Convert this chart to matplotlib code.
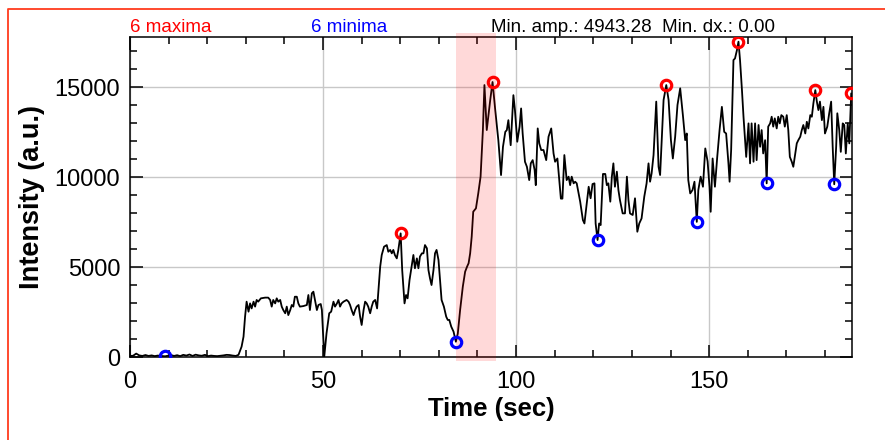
import numpy as np
import matplotlib
matplotlib.use("Agg")
import matplotlib.pyplot as plt
from matplotlib.lines import Line2D
from matplotlib.ticker import MultipleLocator

plt.rcParams['font.family'] = ['Liberation Sans', 'DejaVu Sans']

# trace, split by phase of the recording
t_base = [0.0, 0.8, 1.6, 2.4, 3.2, 4.0, 4.8, 5.6, 6.4, 7.2, 8.0, 9.1, 9.8, 10.6, 11.4, 12.2, 13.0, 13.8,
          14.6, 15.4, 16.2, 17.0, 17.8, 18.6, 19.4, 20.2, 21.0, 21.8, 22.6, 23.4, 24.2, 25.0, 25.8, 26.6,
          27.4, 28.1]
v_base = [60, 70, 190, 90, 60, 110, 60, 90, 50, 80, 60, 40, 70, 110, 60, 100, 50, 120,
          80, 140, 60, 130, 90, 70, 120, 50, 80, 60, 50, 70, 90, 120, 110, 80,
          60, 120]

t_step1 = [28.9, 29.4, 29.8, 30.2, 30.7, 31.1, 31.5, 32.0, 32.4, 32.8, 33.2, 33.9, 35.0, 35.8, 36.3,
           36.7, 37.1, 37.6, 38.0, 38.4, 38.9, 39.3, 39.7, 40.2, 40.6, 41.0, 41.5, 41.9, 42.3, 42.7,
           43.2, 43.6, 44.0, 44.9, 45.8, 46.2, 46.6, 47.1, 47.5, 47.9, 48.4, 48.8, 49.4, 49.7]
v_step1 = [575, 1130, 2240, 3075, 2520, 2980, 2700, 3075, 2800, 3170, 3075, 3260, 3300, 3300, 3170,
           2800, 3170, 2980, 3260, 3075, 3170, 2800, 2610, 2430, 2800, 2330, 2610, 2890, 2800, 3350,
           3350, 2980, 2800, 2830, 2890, 3445, 2610, 3540, 3630, 3170, 2610, 2890, 2945, 2610]

t_step2 = [50.3, 50.9, 51.6, 52.1, 52.7, 53.1, 53.6, 54.0, 54.4, 54.8, 55.3, 56.1, 56.6, 57.0, 57.4,
           57.9, 58.3, 58.7, 59.2, 59.6, 60.0, 60.5, 60.9, 61.3, 61.7, 62.2, 62.6, 63.0, 63.5, 64.0]
v_step2 = [0, 1315, 2430, 2520, 3075, 2800, 2980, 3170, 2800, 2980, 3075, 3170, 3075, 2890, 2610,
           2330, 2610, 2800, 2890, 2240, 1780, 2610, 3075, 2980, 2800, 2430, 2800, 3075, 3170, 2700]

t_step3 = [64.8, 65.2, 65.8, 66.5, 66.9, 67.4, 67.8, 68.2, 68.6, 69.1, 69.5, 70.1, 70.5, 71.1, 71.5,
           71.9, 72.4, 73.0, 73.4, 73.8, 74.3, 74.7, 75.1, 75.6, 76.0, 76.4, 76.9, 77.3, 77.7, 78.1,
           78.6, 79.0, 79.4, 79.9, 80.3, 80.7, 81.3, 81.9, 82.3, 82.7, 83.2, 83.8, 84.4]
v_step3 = [5020, 5670, 6130, 6220, 5850, 5950, 5760, 5950, 5670, 5480, 5950, 6870, 4830, 2980, 3445,
           3260, 4280, 5110, 5670, 4930, 5480, 4930, 5580, 5760, 5760, 6220, 6040, 4830, 4370, 4000,
           4830, 5760, 5950, 5390, 4280, 3170, 2800, 2240, 2060, 2060, 1690, 1410, 850]

t_rise = [84.9, 85.5, 86.2, 86.8, 87.3, 87.7, 88.1, 88.5, 88.9, 89.6, 90.2, 90.8, 91.4, 91.8, 92.4,
          93.3, 93.9, 94.6, 95.4, 96.1, 96.6, 97.2, 97.6, 98.0, 98.6, 99.3, 99.7, 100.3, 100.9, 101.3,
          101.7, 102.3, 102.8, 103.4, 103.8, 104.3, 104.8, 105.1, 105.6, 106.0, 106.5, 107.1, 107.8,
          108.4, 109.1, 109.7, 110.1, 110.7, 111.6, 112.0, 112.5, 113.1, 113.6, 114.0, 114.4, 114.9,
          115.3, 115.7, 116.2, 116.6, 117.3, 117.7, 118.3, 118.8]
v_rise = [1300, 2610, 3910, 4740, 5020, 5210, 5760, 6680, 8074, 8260, 9090, 10020, 12610, 15110, 12610,
          14280, 15280, 13720, 12050, 10110, 11680, 12510, 12610, 13160, 11770, 14550, 13720, 11960, 12800, 13810,
          12420, 10850, 10570, 9830, 10760, 10940, 10390, 9550, 12700, 11870, 11500, 11500, 10940,
          12240, 12700, 11310, 10850, 11030, 8800, 8800, 11220, 9830, 10020, 9550, 10020, 9650,
          9740, 9650, 9090, 8630, 7610, 7420, 8540, 9460]

t_mid = [119.3, 119.8, 120.3, 120.6, 121.1, 121.5, 121.9, 122.5, 123.1, 123.5, 123.9, 124.4, 124.8,
         125.2, 125.6, 126.1, 126.5, 126.9, 127.6, 128.2, 128.7, 129.1, 129.5, 130.2, 130.8, 131.4,
         131.9, 132.5, 133.2, 133.8, 134.3, 134.7, 135.1, 135.6, 136.3, 136.9, 137.3, 138.2, 138.9,
         139.5, 140.1, 140.6, 141.2, 141.8, 142.5, 143.2, 143.8, 144.2, 144.6, 145.1, 145.7, 146.2,
         146.8, 147.2, 147.8, 148.4, 149.0, 149.6, 150.1, 150.4, 150.9, 151.5, 152.1, 152.7, 153.3,
         153.9, 154.4, 155.0]
v_mid = [8820, 9610, 9650, 7420, 6500, 7420, 7330, 10170, 10170, 9550, 9650, 8630, 10020,
         10760, 9460, 10300, 9280, 8720, 7980, 7980, 10020, 8720, 7980, 7890, 8820, 6960,
         7420, 7700, 8910, 9650, 10760, 9740, 10200, 11220, 14190, 10570, 10110, 14280, 15110,
         14280, 12050, 11030, 12240, 14000, 14930, 13440, 12050, 12420, 9830, 9090, 9280, 9740,
         7510, 9280, 10020, 9460, 11590, 10870, 9460, 8070, 11030, 9460, 11120, 12610, 13900,
         12510, 12420, 10760]

t_late = [155.3, 155.7, 156.3, 156.7, 157.2, 157.6, 158.0, 158.5, 158.9, 159.3, 159.6, 160.2, 160.6,
          161.0, 161.5, 161.9, 162.3, 162.8, 163.2, 163.6, 164.0, 164.5, 164.9, 165.3, 165.8, 166.2,
          166.6, 167.0, 167.5, 167.9, 168.3, 168.7, 169.2, 169.6, 170.1, 170.5, 170.9, 171.4, 171.8,
          172.3, 172.7, 173.1, 173.6, 174.0, 174.4, 174.9, 175.3, 175.7, 176.2, 176.6, 177.0, 177.5,
          177.9, 178.3, 178.7, 179.2, 179.6, 180.0, 180.6, 181.1, 181.6, 182.0, 182.4, 182.9, 183.2,
          183.7, 184.1, 184.6, 185.0, 185.4, 185.9, 186.3, 186.8, 187.3]
v_late = [9740, 11500, 16500, 16590, 17050, 17520, 16500, 14830, 13350, 12050, 11120, 12980, 10760,
          12980, 10850, 12980, 10940, 12890, 11680, 12610, 11310, 12050, 9650, 12800, 12980, 13350,
          12800, 13260, 12700, 13350, 12980, 13440, 13350, 12800, 13440, 12610, 11120, 10850, 10570,
          11310, 11870, 12050, 12240, 12610, 12890, 12420, 13070, 12700, 13440, 13350, 14090, 14830,
          14190, 13720, 14190, 13160, 13900, 12420, 12800, 13540, 14190, 11680, 9600, 11680, 13540,
          12610, 11400, 12980, 12890, 11310, 12980, 11870, 14650, 14300]

# detected extrema
max_t = [70.1, 93.9, 138.9, 157.6, 177.5, 186.8]
max_v = [6870, 15280, 15110, 17520, 14830, 14650]
min_t = [9.1, 84.4, 121.1, 146.8, 164.9, 182.4]
min_v = [40, 850, 6500, 7510, 9650, 9600]

# highlighted window (sec)
span = (84.4, 94.7)
min_amp = 4943.28
min_dx = 0.00

time_s = np.concatenate([t_base, t_step1, t_step2, t_step3, t_rise, t_mid, t_late])
intensity = np.concatenate([v_base, v_step1, v_step2, v_step3, v_rise, v_mid, v_late])

fig = plt.figure(figsize=(8.85, 4.4), dpi=100)
ax = fig.add_axes([0.1469, 0.1886, 0.8158, 0.7273])

ax.plot(time_s, intensity, color="black", lw=1.3, zorder=2)
ax.axvspan(span[0], span[1], ymin=-0.012, ymax=1.012, color="red", alpha=0.15,
           lw=0, clip_on=False, zorder=3)
ax.plot(max_t, max_v, "o", ms=7.5, mfc="none", mec="red", mew=2.3, zorder=4)
ax.plot(min_t, min_v, "o", ms=7.5, mfc="none", mec="blue", mew=2.3, zorder=4)

ax.set_xlim(0, 187)
ax.set_ylim(0, 17780)
ax.xaxis.set_major_locator(MultipleLocator(50))
ax.xaxis.set_minor_locator(MultipleLocator(10))
ax.yaxis.set_major_locator(MultipleLocator(5000))
ax.yaxis.set_minor_locator(MultipleLocator(1000))
ax.tick_params(which="both", direction="in", top=True, right=True, width=1.1, labelsize=17)
ax.tick_params(which="major", length=9)
ax.tick_params(which="minor", length=5)
ax.tick_params(axis="x", pad=10)
ax.tick_params(axis="y", pad=7)
for s in ax.spines.values():
    s.set_linewidth(1.1)

ax.grid(True, which="major", color="#c8c8c8", lw=1)
ax.set_axisbelow(True)

ax.set_xlabel("Time (sec)", fontsize=18.5, fontweight="bold", labelpad=3)
ax.set_ylabel("Intensity (a.u.)", fontsize=19.5, fontweight="bold", labelpad=7)

ax.text(0.0, 1.0154, f"{len(max_t)} maxima", color="red", fontsize=13.5,
        transform=ax.transAxes, va="baseline", ha="left")
ax.text(0.25, 1.0154, f"{len(min_t)} minima", color="blue", fontsize=13.5,
        transform=ax.transAxes, va="baseline", ha="left")
ax.text(0.5, 1.0154, f"Min. amp.: {min_amp:.2f}  Min. dx.: {min_dx:.2f}", color="black",
        fontsize=13.5, transform=ax.transAxes, va="baseline", ha="left")

# red frame, only the left and top edges fall inside the figure
frame_x = 8 / 885
frame_y = 1 - 9 / 440
fig.add_artist(Line2D([frame_x, frame_x, 1.0], [0.0, frame_y, frame_y], color="#ff3c1e",
                      lw=1.3, transform=fig.transFigure))

fig.savefig("out.png", dpi=100)
